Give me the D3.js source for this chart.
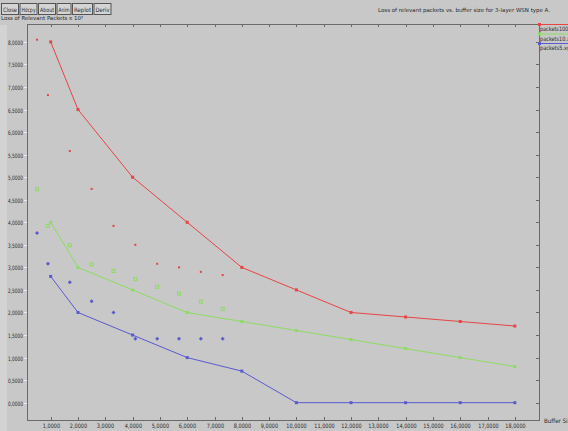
<!DOCTYPE html>
<html>
<head>
<meta charset="utf-8">
<script src="https://cdn.jsdelivr.net/npm/d3@7"></script>
<style>
  body { margin: 0; background: #c8c8c8; overflow: hidden; }
  svg { display: block; }
  text { font-family: "DejaVu Sans Condensed", "DejaVu Sans", sans-serif; fill: #2a2a2a; }
</style>
</head>
<body>
<script>
// data (buffer size in thousands, loss in x10^3)
const bufX = [1, 2, 4, 6, 8, 10, 12, 14, 16, 18]
const lossRed = [8.0, 6.5, 5.0, 4.0, 3.0, 2.5, 2.0, 1.9, 1.8, 1.7]
const lossGreen = [4.0, 3.0, 2.5, 2.0, 1.8, 1.6, 1.4, 1.2, 1.0, 0.8]
const lossBlue = [2.8, 2.0, 1.5, 1.0, 0.7, 0, 0, 0, 0, 0]

const scatX = [0.5, 0.9, 1.7, 2.5, 3.3, 4.1, 4.9, 5.7, 6.5, 7.3]
const scatRed = [8.05, 6.82, 5.58, 4.74, 3.92, 3.5, 3.08, 3.0, 2.9, 2.83]
const scatGreen = [4.73, 3.92, 3.49, 3.07, 2.92, 2.74, 2.57, 2.42, 2.24, 2.08]
const scatBlue = [3.76, 3.08, 2.67, 2.25, 2.0, 1.42, 1.42, 1.42, 1.42, 1.42]

const legendNames = ["packets100.xg", "packets10.xg", "packets5.xg"]
const xTicks = d3.range(1, 19, 1)
const yTicks = d3.range(0, 8.01, 0.5)
const buttons = ["Close", "Hdcpy", "About", "Anim", "Replot", "Deriv"]

const w = 568
const h = 431
const colors = ["#e84444", "#8ddc62", "#5a5ad0"]

const svg = d3.select("body").append("svg")
  .attr("width", w)
  .attr("height", h)

svg.append("rect").attr("width", w).attr("height", h).attr("fill", "#c8c8c8")
// lighter strip on left edge
svg.append("rect").attr("x", 0).attr("y", 25).attr("width", 7).attr("height", h - 25).attr("fill", "#d3d3d3")

const pLeft = 27, pRight = 539, pTop = 24, pBottom = 420

const xScale = d3.scaleLinear().domain([0.132, 18.886]).range([pLeft, pRight])
const yScale = d3.scaleLinear().domain([-0.384, 8.397]).range([pBottom, pTop])

const fmt = v => d3.format(".4f")(v).replace(".", ",")

//buttons
let bx = 1
buttons.forEach(b => {
  const bw = b.length * 3 + 2
  const g = svg.append("g")
  g.append("rect").attr("x", bx + 0.5).attr("y", 3.5).attr("width", bw).attr("height", 11)
    .attr("fill", "#d4d4d4").attr("stroke", "#555").attr("stroke-width", 1)
  g.append("text").attr("x", bx + 2).attr("y", 12).attr("font-size", 6)
    .attr("textLength", bw - 3).attr("lengthAdjust", "spacingAndGlyphs").text(b)
  bx += bw + 1.5
})

//title and axis labels
svg.append("text").attr("x", 378).attr("y", 12).attr("font-size", 5.5)
  .attr("textLength", 172).attr("lengthAdjust", "spacingAndGlyphs")
  .text("Loss of relevant packets vs. buffer size for 3-layer WSN type A.")
svg.append("text").attr("x", 1).attr("y", 20).attr("font-size", 5.5)
  .attr("textLength", 82).attr("lengthAdjust", "spacingAndGlyphs")
  .text("Loss of Relevant Packets x 10³")
svg.append("text").attr("x", 544).attr("y", 423).attr("font-size", 6)
  .attr("textLength", 30).attr("lengthAdjust", "spacingAndGlyphs")
  .text("Buffer Size")

//frame
svg.append("rect").attr("x", pLeft + 0.5).attr("y", pTop + 0.5)
  .attr("width", pRight - pLeft).attr("height", pBottom - pTop)
  .attr("fill", "none").attr("stroke", "#6a6a6a").attr("stroke-width", 1)

//x ticks
xTicks.forEach(t => {
  const x = Math.round(xScale(t)) + 0.5
  svg.append("line").attr("x1", x).attr("x2", x).attr("y1", pBottom - 3).attr("y2", pBottom)
    .attr("stroke", "#6a6a6a")
  svg.append("line").attr("x1", x).attr("x2", x).attr("y1", pTop).attr("y2", pTop + 3)
    .attr("stroke", "#6a6a6a")
  const lbl = fmt(t)
  svg.append("text").attr("x", x).attr("y", pBottom + 8).attr("font-size", 6)
    .attr("text-anchor", "middle")
    .attr("textLength", lbl.length * 2.9).attr("lengthAdjust", "spacingAndGlyphs")
    .text(lbl)
})

//y ticks
yTicks.forEach(t => {
  const y = Math.round(yScale(t)) + 0.5
  svg.append("line").attr("x1", pLeft - 3).attr("x2", pLeft).attr("y1", y).attr("y2", y)
    .attr("stroke", "#eeeeee")
  svg.append("line").attr("x1", pRight - 3).attr("x2", pRight).attr("y1", y).attr("y2", y)
    .attr("stroke", "#6a6a6a")
  const lbl = fmt(t)
  svg.append("text").attr("x", pLeft - 4).attr("y", y + 2.5).attr("font-size", 6)
    .attr("text-anchor", "end")
    .attr("textLength", lbl.length * 2.5).attr("lengthAdjust", "spacingAndGlyphs")
    .text(lbl)
})

//lines
const line = d3.line().x(d => xScale(d[0])).y(d => yScale(d[1]))
const lineSets = [lossRed, lossGreen, lossBlue]
lineSets.forEach((ys, i) => {
  const pts = bufX.map((x, j) => [x, ys[j]])
  svg.append("path").datum(pts).attr("d", line)
    .attr("fill", "none").attr("stroke", colors[i]).attr("stroke-width", 1)
  svg.selectAll(null).data(pts).enter().append("rect")
    .attr("x", d => xScale(d[0]) - 1.5).attr("y", d => yScale(d[1]) - 1.5)
    .attr("width", 3).attr("height", 3).attr("fill", colors[i])
})

//scattered points
const scatSets = [scatRed, scatGreen, scatBlue]
scatSets.forEach((ys, i) => {
  const pts = scatX.map((x, j) => [x, ys[j]])
  const sel = svg.selectAll(null).data(pts).enter()
  if (i == 0) {
    sel.append("rect")
      .attr("x", d => xScale(d[0]) - 1).attr("y", d => yScale(d[1]) - 1)
      .attr("width", 2).attr("height", 2).attr("fill", colors[i])
  } else if (i == 1) {
    sel.append("rect")
      .attr("x", d => xScale(d[0]) - 1.5).attr("y", d => yScale(d[1]) - 1.5)
      .attr("width", 3).attr("height", 3).attr("fill", "none")
      .attr("stroke", colors[i]).attr("stroke-width", 1)
  } else {
    sel.append("path")
      .attr("d", d => {
        const x = xScale(d[0]), y = yScale(d[1])
        return `M${x},${y - 2}L${x + 2},${y}L${x},${y + 2}L${x - 2},${y}Z`
      })
      .attr("fill", colors[i])
  }
})

//legend
legendNames.forEach((n, i) => {
  const y = pTop + i * 9.5
  svg.append("line").attr("x1", pRight).attr("x2", w).attr("y1", y + 0.5).attr("y2", y + 0.5)
    .attr("stroke", colors[i])
  svg.append("rect").attr("x", pRight - 1).attr("y", y - 1).attr("width", 3).attr("height", 3)
    .attr("fill", colors[i])
  svg.append("text").attr("x", pRight + 1).attr("y", y + 7).attr("font-size", 6)
    .attr("textLength", n.length * 2.75).attr("lengthAdjust", "spacingAndGlyphs")
    .text(n)
})
</script>
</body>
</html>
